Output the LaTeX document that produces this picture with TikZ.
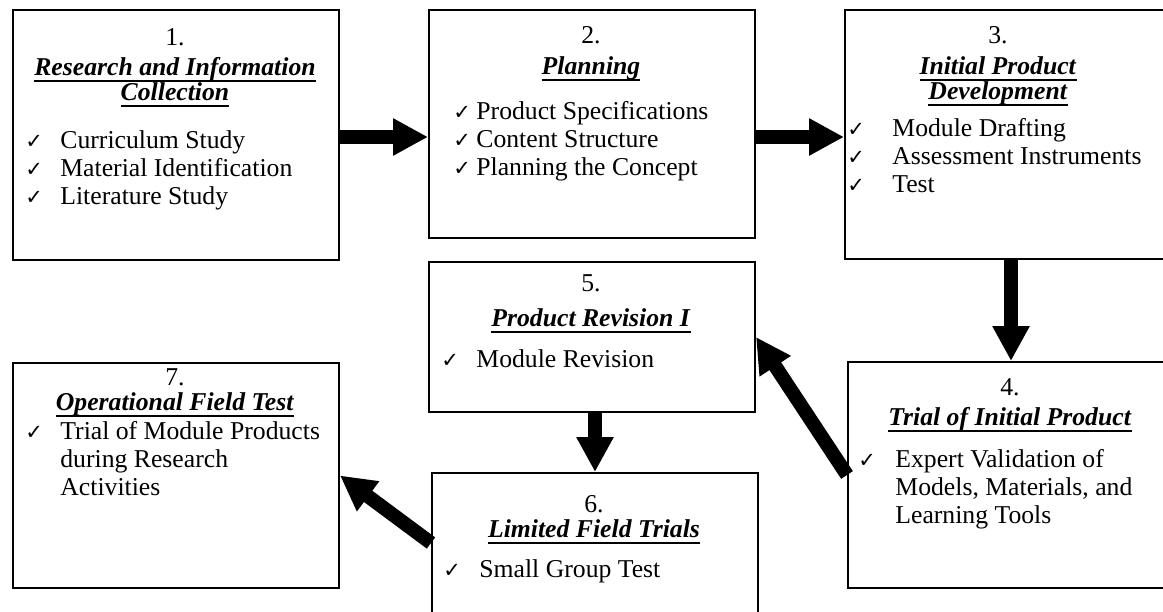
\documentclass[tikz,border=0pt]{standalone}
\usepackage{fontspec}
\setmainfont{Liberation Serif}
\newfontfamily\symfont{DejaVu Sans}
\usetikzlibrary{arrows.meta}

\newsavebox\ttlbox
\newcommand\ttl[1]{\sbox\ttlbox{\textbf{\textit{#1}}}\usebox\ttlbox\llap{\smash{\rule[-3.5pt]{\wd\ttlbox}{0.9pt}}}}
\newcommand\chk[2][6.5pt]{\makebox[24pt][l]{\hspace{#1}{\symfont\fontsize{10.5}{10.5}\selectfont ✓}}#2}
\newcommand\hang{\hspace*{24pt}}

\tikzset{
  stage/.style={draw, line width=1pt, anchor=north west, inner sep=0pt},
  head/.style={anchor=base, align=center, inner sep=0pt, font=\fontsize{12.85}{12.5}\selectfont},
  items/.style={anchor=base west, align=left, inner sep=0pt, font=\fontsize{12.85}{14}\selectfont},
  flow/.style={line width=7pt, -{Triangle[length=17.5pt,width=17.5pt]}},
}

\begin{document}
\begin{tikzpicture}[x=0.5pt, y=-0.5pt]
  \useasboundingbox (0,0) rectangle (1163,611);
  \clip (0,0) rectangle (1163,611);

  \node[stage, minimum width=163pt, minimum height=125pt] (b1) at (12,9) {};
  \node[stage, minimum width=163pt, minimum height=114pt] (b2) at (428,9) {};
  \node[stage, minimum width=166pt, minimum height=124.5pt] (b3) at (844,9) {};
  \node[stage, minimum width=163pt, minimum height=113pt] (b4) at (847,361) {};
  \node[stage, minimum width=163pt, minimum height=75pt] (b5) at (428,261) {};
  \node[stage, minimum width=163pt, minimum height=70pt] (b6) at (431,472) {};
  \node[stage, minimum width=163pt, minimum height=112.5pt] (b7) at (12,362) {};

  % titles and lists sit on the baseline of their last line
  \node[head] (h1) at (175,100) {1.\\[2.5pt]\ttl{Research and Information}\\\ttl{Collection}};
  \node[items] (l1) at (12,204) {\chk{Curriculum Study}\\\chk{Material Identification}\\\chk{Literature Study}};

  \node[head] (h2) at (591,74) {2.\\[3pt]\ttl{Planning}};
  \node[items] (l2) at (428,175) {\chk[12.5pt]{Product Specifications}\\\chk[12.5pt]{Content Structure}\\\chk[12.5pt]{Planning the Concept}};

  \node[head] (h3) at (998,99) {3.\\[3pt]\ttl{Initial Product}\\\ttl{Development}};
  \node[items] (l3) at (844,192) {\chk[1.5pt]{Module Drafting}\\\chk[1.5pt]{Assessment Instruments}\\\chk[1.5pt]{Test}};

  \node[head] (h4) at (1010,425) {4.\\[2.5pt]\ttl{Trial of Initial Product}};
  \node[items] (l4) at (847,523) {\chk[5.5pt]{Expert Validation of}\\\hang Models, Materials, and\\\hang Learning Tools};

  \node[head] (h5) at (591,326) {5.\\[5pt]\ttl{Product Revision I}};
  \node[items] (l5) at (428,367) {\chk{Module Revision}};

  \node[head] (h6) at (594,537) {6.\\[0pt]\ttl{Limited Field Trials}};
  \node[items] (l6) at (431,577) {\chk[6pt]{Small Group Test}};

  \node[head] (h7) at (175,410) {7.\\[0pt]\ttl{Operational Field Test}};
  \node[items] (l7) at (12,495) {\chk{Trial of Module Products}\\\hang during Research\\\hang Activities};

  \draw[flow] ([yshift=-1pt]b1.east) -- ([yshift=-6.5pt]b2.west);
  \draw[flow] ([yshift=-6.5pt]b2.east) -- ([yshift=-1.25pt]b3.west);
  \draw[flow] (b3.south) -- (b3.south |- b4.north);
  \draw[flow] (b4.west) -- (b5.east);
  \draw[flow] (b6.north |- b5.south) -- (b6.north);
  \draw[flow] (b6.west) -- (b7.east);
\end{tikzpicture}
\end{document}
